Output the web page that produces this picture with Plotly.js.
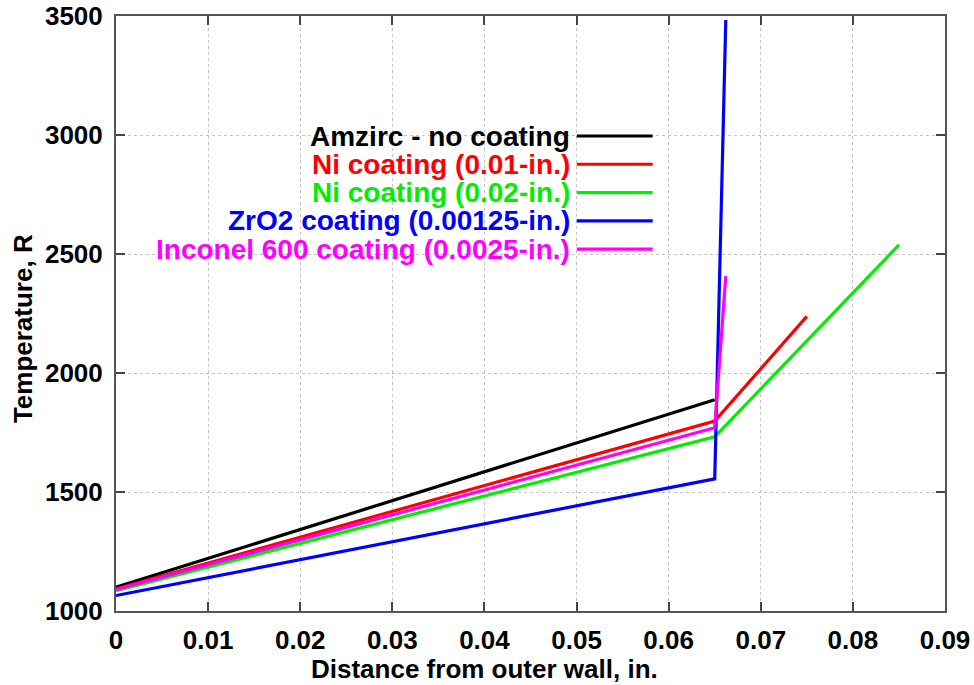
<!DOCTYPE html>
<html>
<head>
<meta charset="utf-8">
<script src="https://cdn.plot.ly/plotly-3.0.1.min.js"></script>
<style>html,body{margin:0;padding:0;background:#fff;}#chart{width:974px;height:685px;}</style>
</head>
<body>
<div id="chart"></div>
<script>
// Series names and colours
const seriesNames = [
  "Amzirc - no coating",
  "Ni coating (0.01-in.)",
  "Ni coating (0.02-in.)",
  "ZrO2 coating (0.00125-in.)",
  "Inconel 600 coating (0.0025-in.)"
];
const seriesColors = ["#000000", "#ff0000", "#00ee00", "#0000ff", "#ff00ff"];

// Distance from outer wall (in.) and temperature (R) for each series
const amzircX = [0, 0.065];
const amzircY = [1100, 1888];

const ni01X = [0, 0.065, 0.075];
const ni01Y = [1093, 1798, 2238];

const ni02X = [0, 0.065, 0.085];
const ni02Y = [1085, 1732, 2538];

const zro2X = [0, 0.065, 0.0662];
const zro2Y = [1065, 1555, 3483];

const inconelX = [0, 0.065, 0.0662];
const inconelY = [1090, 1770, 2407];

const xTickVals = [0, 0.01, 0.02, 0.03, 0.04, 0.05, 0.06, 0.07, 0.08, 0.09];
const xTickText = ["0", "0.01", "0.02", "0.03", "0.04", "0.05", "0.06", "0.07", "0.08", "0.09"];
const yTickVals = [1000, 1500, 2000, 2500, 3000, 3500];
const yTickText = ["1000", "1500", "2000", "2500", "3000", "3500"];

const xTitle = "Distance from outer wall, in.";
const yTitle = "Temperature, R";

const seriesX = [amzircX, ni01X, ni02X, zro2X, inconelX];
const seriesY = [amzircY, ni01Y, ni02Y, zro2Y, inconelY];

const FONT = "Liberation Sans, Arial, Helvetica, sans-serif";

const traces = seriesNames.map((name, i) => ({
  type: "scatter",
  mode: "lines",
  name: name,
  x: seriesX[i],
  y: seriesY[i],
  line: {color: seriesColors[i], width: 3.2},
  showlegend: false
}));

// Custom key (text right-aligned, sample line at right), gnuplot style
const keyTextX = 0.5495;
const keyLineX0 = 0.5558;
const keyLineX1 = 0.6474;
const keyY0 = 0.7983;
const keyStep = 0.0475;

const annotations = [];
const shapes = [{
  type: "rect", xref: "paper", yref: "paper",
  x0: 0.041, x1: 0.659, y0: 0.587, y1: 0.822,
  fillcolor: "#ffffff", line: {width: 0}, layer: "between"
}];
seriesNames.forEach((name, i) => {
  const yy = keyY0 - i * keyStep;
  annotations.push({
    xref: "paper", yref: "paper", x: keyTextX, y: yy,
    xanchor: "right", yanchor: "middle", showarrow: false,
    text: name,
    font: {family: FONT, size: 28, color: seriesColors[i], weight: "bold"}
  });
  shapes.push({
    type: "line", xref: "paper", yref: "paper",
    x0: keyLineX0, x1: keyLineX1, y0: yy, y1: yy,
    line: {color: seriesColors[i], width: 3.2}
  });
});

annotations.push({
  xref: "paper", yref: "paper", x: 0.4448, y: -0.097,
  xanchor: "center", yanchor: "middle", showarrow: false,
  text: xTitle,
  font: {family: FONT, size: 26, color: "#000", weight: "bold"}
});
annotations.push({
  xref: "paper", yref: "paper", x: -0.112, y: 0.474,
  xanchor: "center", yanchor: "middle", showarrow: false, textangle: -90,
  text: yTitle,
  font: {family: FONT, size: 26, color: "#000", weight: "bold"}
});

const axisCommon = {
  showline: true, linecolor: "#555555", linewidth: 2, mirror: "ticks",
  ticks: "inside", ticklen: 9, tickwidth: 2, tickcolor: "#444444",
  showgrid: true, gridcolor: "#c4c4c4", gridwidth: 1, griddash: "dot",
  zeroline: false,
  tickfont: {family: FONT, size: 26, color: "#000", weight: "bold"}
};

const layout = {
  width: 974, height: 685,
  margin: {l: 116, r: 28.5, t: 16, b: 74},
  paper_bgcolor: "#ffffff", plot_bgcolor: "#ffffff",
  showlegend: false,
  xaxis: Object.assign({}, axisCommon, {
    range: [0, 0.09], tickmode: "array", tickvals: xTickVals, ticktext: xTickText,
    ticklabelstandoff: 5
  }),
  yaxis: Object.assign({}, axisCommon, {
    range: [1000, 3500], tickmode: "array", tickvals: yTickVals, ticktext: yTickText,
    ticklabelstandoff: 6
  }),
  annotations: annotations,
  shapes: shapes
};

Plotly.newPlot("chart", traces, layout, {displayModeBar: false, staticPlot: true});
</script>
</body>
</html>
